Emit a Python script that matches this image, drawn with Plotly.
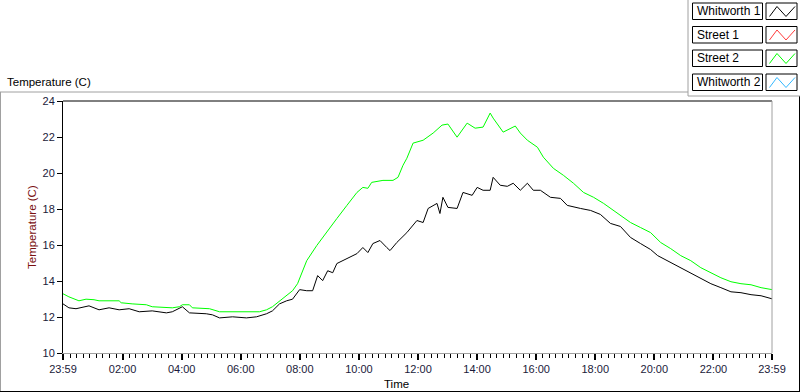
import pandas as pd
import plotly.graph_objects as go

# ---------------- data ----------------
# hours after 23:59 (start of the record)
street2_hours = [0.00, 0.20, 0.54, 0.78, 1.05, 1.22, 1.90, 1.97, 2.34, 2.82, 3.02, 3.70, 3.94, 4.04, 4.28, 4.38,
                 4.96, 5.30, 6.65, 6.89, 7.09, 7.33, 7.57, 7.77, 7.94, 8.11, 8.25, 8.59, 8.93, 9.27, 9.61, 9.95,
                 10.15, 10.32, 10.45, 10.83, 11.17, 11.34, 11.51, 11.64, 11.85, 12.19, 12.53, 12.83, 13.03, 13.34,
                 13.68, 13.95, 14.22, 14.46, 14.56, 14.90, 15.31, 15.48, 15.72, 16.06, 16.26, 16.60, 16.94, 17.28,
                 17.62, 17.96, 18.30, 18.64, 18.87, 19.21, 19.55, 19.89, 20.23, 20.57, 20.91, 21.25, 21.59, 21.93,
                 22.27, 22.61, 22.95, 23.29, 23.63, 24.00]
street2_temp = [13.29, 13.12, 12.90, 12.99, 12.96, 12.90, 12.90, 12.79, 12.73, 12.68, 12.57, 12.51, 12.57, 12.68, 12.68, 12.51,
                12.46, 12.29, 12.29, 12.40, 12.57, 12.90, 13.18, 13.46, 13.85, 14.57, 15.13, 15.97, 16.69, 17.47, 18.20, 18.92,
                19.20, 19.15, 19.48, 19.59, 19.59, 19.76, 20.43, 20.82, 21.66, 21.82, 22.22, 22.66, 22.72, 21.99,
                22.77, 22.49, 22.55, 23.33, 23.05, 22.27, 22.61, 22.22, 21.82, 21.43, 20.88, 20.26, 19.87, 19.43,
                18.92, 18.65, 18.31, 17.92, 17.64, 17.25, 16.97, 16.69, 16.14, 15.80, 15.41, 15.13, 14.74, 14.46,
                14.18, 13.96, 13.85, 13.79, 13.63, 13.52]

whitworth1_hours = [0.00, 0.20, 0.44, 0.88, 1.22, 1.56, 1.90, 2.24, 2.58, 3.02, 3.50, 3.70, 4.04, 4.28, 4.85, 5.06,
                    5.30, 5.74, 6.21, 6.55, 6.89, 7.09, 7.33, 7.57, 7.77, 8.01, 8.25, 8.45, 8.62, 8.79, 8.96, 9.13,
                    9.27, 9.61, 9.95, 10.15, 10.32, 10.49, 10.73, 10.96, 11.07, 11.30, 11.64, 11.98, 12.19, 12.36,
                    12.66, 12.76, 12.86, 13.03, 13.34, 13.54, 13.85, 14.02, 14.22, 14.46, 14.56, 14.80, 15.04, 15.24,
                    15.48, 15.72, 15.92, 16.16, 16.50, 16.84, 17.07, 17.52, 17.86, 18.19, 18.53, 18.87, 19.21, 19.55,
                    19.89, 20.13, 20.57, 20.91, 21.25, 21.59, 21.93, 22.27, 22.61, 22.95, 23.29, 23.63, 24.00]
whitworth1_temp = [12.73, 12.51, 12.46, 12.62, 12.40, 12.51, 12.40, 12.46, 12.29, 12.34, 12.23, 12.29, 12.57, 12.23, 12.18, 12.12,
                   11.95, 12.01, 11.95, 12.01, 12.18, 12.34, 12.73, 12.90, 12.99, 13.52, 13.46, 13.46, 14.30, 14.02, 14.57, 14.46,
                   14.97, 15.24, 15.52, 15.86, 15.58, 16.08, 16.25, 15.86, 15.69, 16.14, 16.69, 17.36, 17.25, 18.03,
                   18.31, 17.75, 18.65, 18.09, 18.03, 18.92, 18.76, 19.20, 19.04, 19.04, 19.76, 19.32, 19.26, 19.43,
                   19.04, 19.43, 19.04, 19.04, 18.65, 18.59, 18.20, 18.03, 17.92, 17.70, 17.20, 17.03, 16.42, 16.08,
                   15.75, 15.41, 15.02, 14.74, 14.41, 14.13, 13.85, 13.63, 13.40, 13.35, 13.24, 13.18, 13.01]

street1_hours, street1_temp = [], []
whitworth2_hours, whitworth2_temp = [], []

series_names = ["Whitworth 1", "Street 1", "Street 2", "Whitworth 2"]
series_colors = ["#000000", "#ff3b3b", "#00ff00", "#33b8ff"]

x_tick_times = ["2024-01-01 23:59", "2024-01-02 02:00", "2024-01-02 04:00", "2024-01-02 06:00",
                "2024-01-02 08:00", "2024-01-02 10:00", "2024-01-02 12:00", "2024-01-02 14:00",
                "2024-01-02 16:00", "2024-01-02 18:00", "2024-01-02 20:00", "2024-01-02 22:00",
                "2024-01-02 23:59"]
x_tick_labels = ["23:59", "02:00", "04:00", "06:00", "08:00", "10:00", "12:00", "14:00",
                 "16:00", "18:00", "20:00", "22:00", "23:59"]
y_ticks = [10, 12, 14, 16, 18, 20, 22, 24]

# ---------------- figure ----------------
start = pd.Timestamp("2024-01-01 23:59")
to_time = lambda hrs: [start + pd.Timedelta(hours=h) for h in hrs]

fig = go.Figure()
all_series = [(whitworth1_hours, whitworth1_temp), (street1_hours, street1_temp),
              (street2_hours, street2_temp), (whitworth2_hours, whitworth2_temp)]
# draw green first so black sits on top where they meet
for idx in [2, 1, 3, 0]:
    h, t = all_series[idx]
    fig.add_trace(go.Scatter(x=to_time(h), y=t, mode="lines", name=series_names[idx],
                             line=dict(color=series_colors[idx], width=1), showlegend=False,
                             hoverinfo="skip"))

W, H = 800, 392
L, R, T, B = 63, 772, 101, 353


def px(x):
    return (x - L) / (R - L)


def py(y):
    return (B - y) / (B - T)


shapes = []


def line(x0, y0, x1, y1, color, width=1):
    shapes.append(dict(type="line", xref="paper", yref="paper", x0=px(x0), y0=py(y0), x1=px(x1), y1=py(y1),
                       line=dict(color=color, width=width), layer="above"))


# plot frame: black top, gray right
line(L, T, R, T, "#000000")
line(R, T, R, B, "#a0a0a0")
# outer panel frame
line(0.5, 92, 0.5, 392, "#a0a0a0")
line(0, 92, 688, 92, "#a0a0a0")
line(799.5, 96, 799.5, 392, "#000000")
line(0, 391.5, 800, 391.5, "#000000")
# legend panel frame
line(688, 0, 688, 96, "#a0a0a0")
line(688, 96, 800, 96, "#a0a0a0")

annotations = []
row_tops = [3, 26.5, 50, 74]
row_h = 16.5
for i, name in enumerate(series_names):
    top = row_tops[i]
    shapes.append(dict(type="rect", xref="paper", yref="paper", x0=px(692.5), x1=px(762.5),
                       y0=py(top), y1=py(top + row_h), line=dict(color="#000000", width=1),
                       fillcolor="white", layer="above"))
    shapes.append(dict(type="rect", xref="paper", yref="paper", x0=px(766), x1=px(797),
                       y0=py(top), y1=py(top + row_h), line=dict(color="#000000", width=1),
                       fillcolor="white", layer="above"))
    pts = [(769.5, top + 13.5), (777, top + 3.5), (786, top + 13.5), (795, top + 3.5)]
    path = "M " + " L ".join(f"{px(a):.5f},{py(b):.5f}" for a, b in pts)
    shapes.append(dict(type="path", xref="paper", yref="paper", path=path,
                       line=dict(color=series_colors[i], width=1), layer="above"))
    annotations.append(dict(text=name, xref="paper", yref="paper", x=px(695), y=py(top + row_h / 2),
                            xanchor="left", yanchor="middle", showarrow=False,
                            font=dict(family="Liberation Sans", size=12, color="#000000")))

annotations.append(dict(text="Temperature (C)", xref="paper", yref="paper", x=px(5), y=py(82),
                        xanchor="left", yanchor="middle", showarrow=False,
                        font=dict(family="Liberation Sans", size=11.5, color="#000000")))
annotations.append(dict(text="Temperature (C)", xref="paper", yref="paper", x=px(32), y=py(227),
                        xanchor="center", yanchor="middle", showarrow=False, textangle=-90,
                        font=dict(family="Liberation Sans", size=11.5, color="#7a1010")))
annotations.append(dict(text="Time", xref="paper", yref="paper", x=px(396), y=py(384),
                        xanchor="center", yanchor="middle", showarrow=False,
                        font=dict(family="Liberation Sans", size=11.5, color="#000000")))

tick_font = dict(family="Liberation Sans", size=11, color="#1a1a3a")

fig.update_layout(
    width=W, height=H,
    margin=dict(l=L, r=W - R, t=T, b=H - B, pad=0),
    paper_bgcolor="white", plot_bgcolor="white",
    showlegend=False,
    shapes=shapes, annotations=annotations,
    xaxis=dict(
        type="date",
        range=[start, start + pd.Timedelta(hours=24)],
        tickmode="array", tickvals=x_tick_times, ticktext=x_tick_labels,
        ticks="outside", ticklen=6, tickwidth=2, tickcolor="#000000",
        showline=True, linecolor="#a0a0a0", linewidth=1,
        showgrid=False, zeroline=False, tickfont=tick_font,
        minor=dict(tickmode="linear", tick0="2024-01-02 02:00", dtick=800000,
                   ticks="outside", ticklen=4, tickwidth=1, tickcolor="#000000", showgrid=False),
    ),
    yaxis=dict(
        range=[10, 24], tickmode="array", tickvals=y_ticks,
        ticks="outside", ticklen=5, tickwidth=1, tickcolor="#000000",
        showline=True, linecolor="#000000", linewidth=1,
        showgrid=False, zeroline=False, tickfont=tick_font,
    ),
)

fig.write_html("out.html",
               config={"displayModeBar": False, "staticPlot": True},
               post_script="document.body.style.margin='0px';document.body.style.padding='0px';"
                           "document.documentElement.style.overflow='hidden';")
